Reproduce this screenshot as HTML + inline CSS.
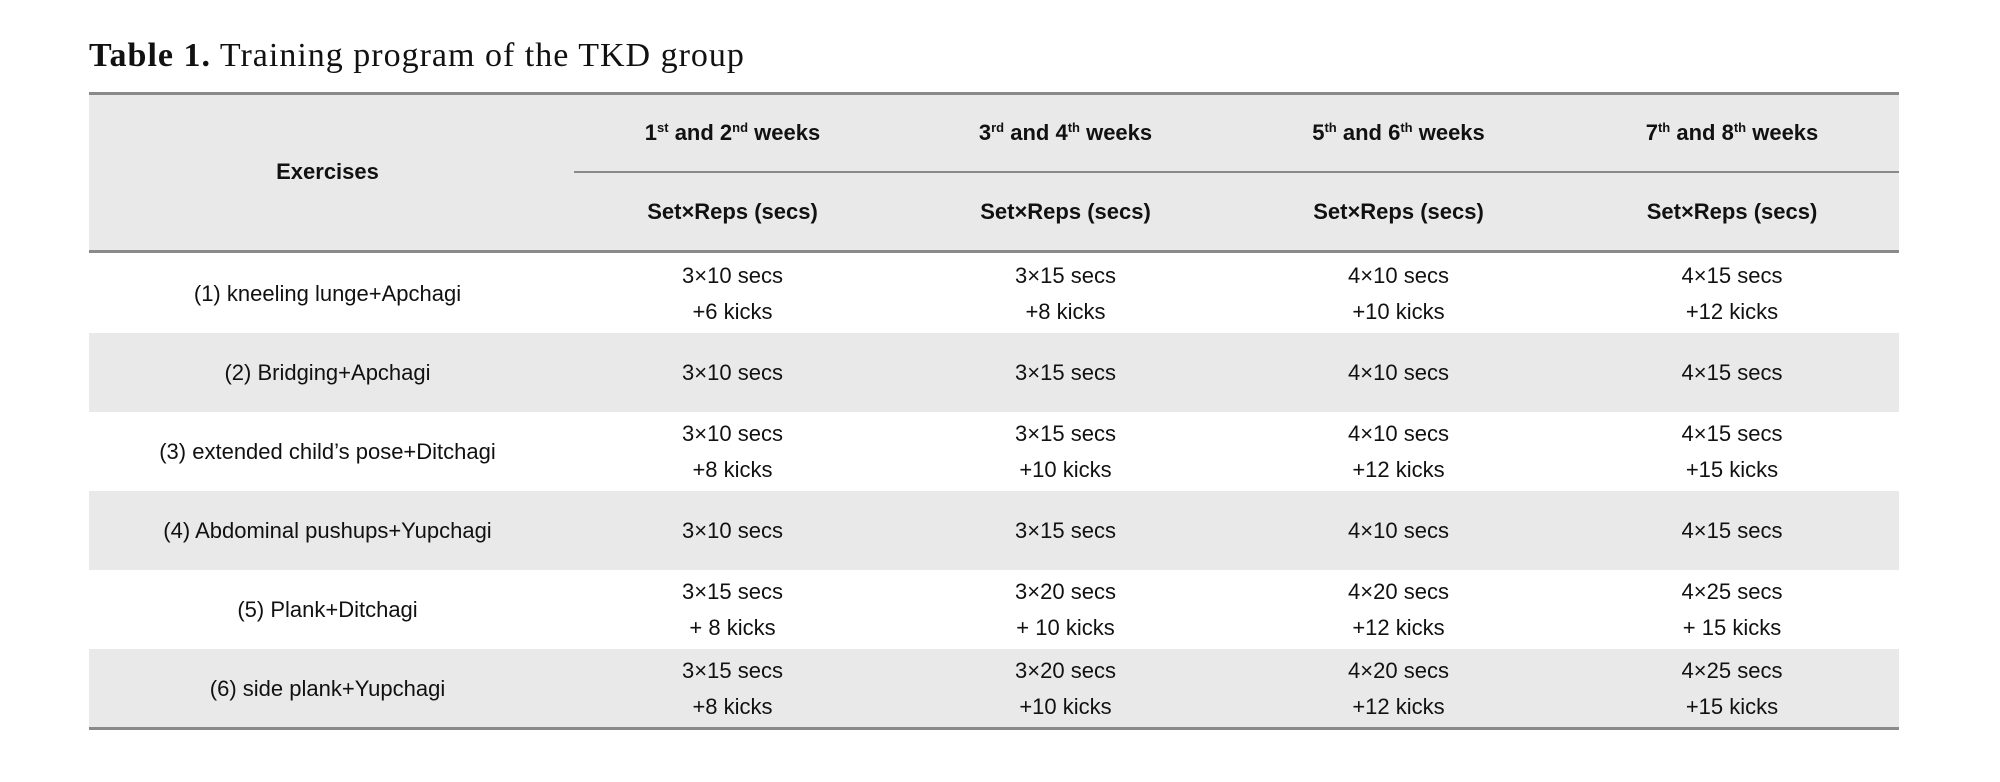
<!DOCTYPE html>
<html><head><style>
body{margin:0;width:2000px;height:782px;background:#fff;position:relative;overflow:hidden;font-family:"Liberation Sans",sans-serif;color:#111}
.title{position:absolute;left:89px;top:37px;font-family:"Liberation Serif",serif;font-size:34px;letter-spacing:1px;white-space:nowrap}
.title b{font-weight:bold}
.box{position:absolute;left:89px;width:1810px}
.shade{background:#e9e9e9}
.rule{position:absolute;left:89px;width:1810px;height:3px;background:#8a8a8a}
.cell{position:absolute;text-align:center;font-size:22px;line-height:36px;display:flex;align-items:center;justify-content:center}
.cell span{display:block}
.h{font-weight:bold}
sup{font-size:13px;vertical-align:8px;line-height:0}
</style></head><body>
<div class="title"><b>Table 1.</b> Training program of the TKD group</div>
<div class="box shade" style="top:93px;height:158px"></div>
<div class="box shade" style="top:333px;height:79px"></div>
<div class="box shade" style="top:491px;height:79px"></div>
<div class="box shade" style="top:649px;height:79px"></div>
<div class="rule" style="top:92px"></div>
<div class="rule" style="top:250px"></div>
<div class="rule" style="top:727px"></div>
<div style="position:absolute;left:574px;width:1325px;top:171px;height:2px;background:#8a8a8a"></div>
<div id="t"></div>
<script>
var cx=[89,566,899,1232,1565],w=[477,333,333,333,334];
var out='';
function c(col,top,h,html,cls){out+='<div class="cell '+(cls||'')+'" style="left:'+cx[col]+'px;width:'+w[col]+'px;top:'+top+'px;height:'+h+'px"><span>'+html+'</span></div>';}
c(0,93,158,'Exercises','h');
var hd=['1<sup>st</sup> and 2<sup>nd</sup> weeks','3<sup>rd</sup> and 4<sup>th</sup> weeks','5<sup>th</sup> and 6<sup>th</sup> weeks','7<sup>th</sup> and 8<sup>th</sup> weeks'];
for(var i=0;i<4;i++){c(i+1,93,79,hd[i],'h');c(i+1,172,79,'Set×Reps (secs)','h');}
var rows=[['(1) kneeling lunge+Apchagi','3×10 secs<br>+6 kicks','3×15 secs<br>+8 kicks','4×10 secs<br>+10 kicks','4×15 secs<br>+12 kicks'],
['(2) Bridging+Apchagi','3×10 secs','3×15 secs','4×10 secs','4×15 secs'],
['(3) extended child’s pose+Ditchagi','3×10 secs<br>+8 kicks','3×15 secs<br>+10 kicks','4×10 secs<br>+12 kicks','4×15 secs<br>+15 kicks'],
['(4) Abdominal pushups+Yupchagi','3×10 secs','3×15 secs','4×10 secs','4×15 secs'],
['(5) Plank+Ditchagi','3×15 secs<br>+ 8 kicks','3×20 secs<br>+ 10 kicks','4×20 secs<br>+12 kicks','4×25 secs<br>+ 15 kicks'],
['(6) side plank+Yupchagi','3×15 secs<br>+8 kicks','3×20 secs<br>+10 kicks','4×20 secs<br>+12 kicks','4×25 secs<br>+15 kicks']];
for(var r=0;r<6;r++)for(var k=0;k<5;k++)c(k,254+r*79,79,rows[r][k]);
document.getElementById('t').innerHTML=out;
</script>
</body></html>
